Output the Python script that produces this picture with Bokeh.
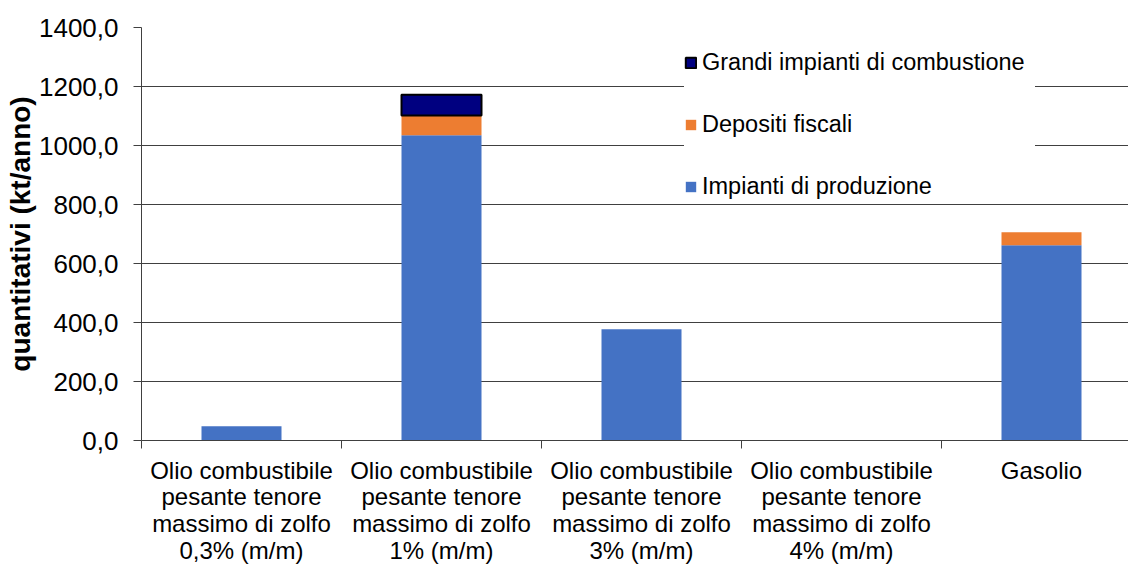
import numpy as np
from bokeh.plotting import figure
from bokeh.models import (ColumnDataSource, Range1d, FixedTicker, CustomJSTickFormatter,
                          Legend, LegendItem, CDSView, BooleanFilter)
from bokeh.embed import file_html
from bokeh.resources import INLINE

categories = [
    "Olio combustibile\npesante tenore\nmassimo di zolfo\n0,3% (m/m)",
    "Olio combustibile\npesante tenore\nmassimo di zolfo\n1% (m/m)",
    "Olio combustibile\npesante tenore\nmassimo di zolfo\n3% (m/m)",
    "Olio combustibile\npesante tenore\nmassimo di zolfo\n4% (m/m)",
    "Gasolio",
]
impianti_produzione = [48, 1035, 377, 0, 662]
depositi_fiscali = [0, 67, 0, 0, 44]
grandi_impianti = [0, 70, 0, 0, 0]
y_ticks = [0, 200, 400, 600, 800, 1000, 1200, 1400]

prod = np.array(impianti_produzione, dtype=float)
dep = np.array(depositi_fiscali, dtype=float)
gic = np.array(grandi_impianti, dtype=float)
xs = np.arange(len(categories)) + 0.5

src = ColumnDataSource(dict(x=xs, prod=prod, pd=prod + dep, tot=prod + dep + gic))

FONT = "Liberation Sans"
W, H = 1128, 566
p = figure(width=W, height=H, output_backend="svg", toolbar_location=None,
           x_range=Range1d(0, 4.935), y_range=Range1d(0, 1400),
           min_border_left=141, min_border_right=0, min_border_top=27, min_border_bottom=124)
p.outline_line_color = None
p.background_fill_color = "white"

r_prod = p.vbar(x="x", width=0.4, bottom=0, top="prod", source=src,
                fill_color="#4472C4", line_color=None)
r_dep = p.vbar(x="x", width=0.4, bottom="prod", top="pd", source=src,
               fill_color="#ED7D31", line_color=None)
view = CDSView(filter=BooleanFilter(list(gic > 0)))
r_gic = p.vbar(x="x", width=0.4, bottom="pd", top="tot", source=src, view=view,
               fill_color="#000080", line_color="black", line_width=2)

# axes
p.xgrid.visible = False
p.ygrid.grid_line_color = "#404040"
p.ygrid.grid_line_width = 1
p.ygrid.ticker = FixedTicker(ticks=y_ticks)

p.yaxis.ticker = FixedTicker(ticks=y_ticks, minor_ticks=[])
p.yaxis.formatter = CustomJSTickFormatter(code="return tick.toFixed(1).replace('.', ',');")
p.yaxis.major_tick_out = 8
p.yaxis.major_tick_in = 0
p.yaxis.minor_tick_out = 0
p.yaxis.axis_line_color = "#404040"
p.yaxis.major_tick_line_color = "#404040"
p.yaxis.major_label_text_font = FONT
p.yaxis.major_label_text_font_size = "26px"
p.yaxis.major_label_text_color = "black"
p.yaxis.major_label_standoff = 15
p.yaxis.axis_label = "quantitativi (kt/anno)"
p.yaxis.axis_label_text_font = FONT
p.yaxis.axis_label_text_font_size = "28px"
p.yaxis.axis_label_text_font_style = "bold"
p.yaxis.axis_label_text_color = "black"
p.yaxis.axis_label_standoff = 0

p.xaxis.ticker = FixedTicker(ticks=list(xs), minor_ticks=list(range(len(categories) + 1)))
p.xaxis.formatter = CustomJSTickFormatter(args=dict(labels=categories),
                                          code="return labels[Math.round(tick - 0.5)];")
p.xaxis.major_tick_out = 0
p.xaxis.major_tick_in = 0
p.xaxis.minor_tick_out = 8
p.xaxis.minor_tick_in = 0
p.xaxis.axis_line_color = "#404040"
p.xaxis.minor_tick_line_color = "#404040"
p.xaxis.major_label_text_font = FONT
p.xaxis.major_label_text_font_size = "24px"
p.xaxis.major_label_text_color = "black"
p.xaxis.major_label_text_line_height = 0.99
p.xaxis.major_label_standoff = 8

legend = Legend(items=[
    LegendItem(label="Grandi impianti di combustione", renderers=[r_gic]),
    LegendItem(label="Depositi fiscali", renderers=[r_dep]),
    LegendItem(label="Impianti di produzione", renderers=[r_prod]),
], location=(543, 240))
legend.label_text_font = FONT
legend.label_text_font_size = "23.5px"
legend.label_text_color = "black"
legend.glyph_width = 13
legend.glyph_height = 13
legend.label_height = 27
legend.label_width = 333
legend.label_standoff = 5
legend.spacing = 35
legend.padding = 15
legend.margin = 0
legend.border_line_color = None
legend.background_fill_color = "white"
legend.background_fill_alpha = 1.0
p.add_layout(legend)

open("out.html", "w").write(file_html(p, INLINE))
